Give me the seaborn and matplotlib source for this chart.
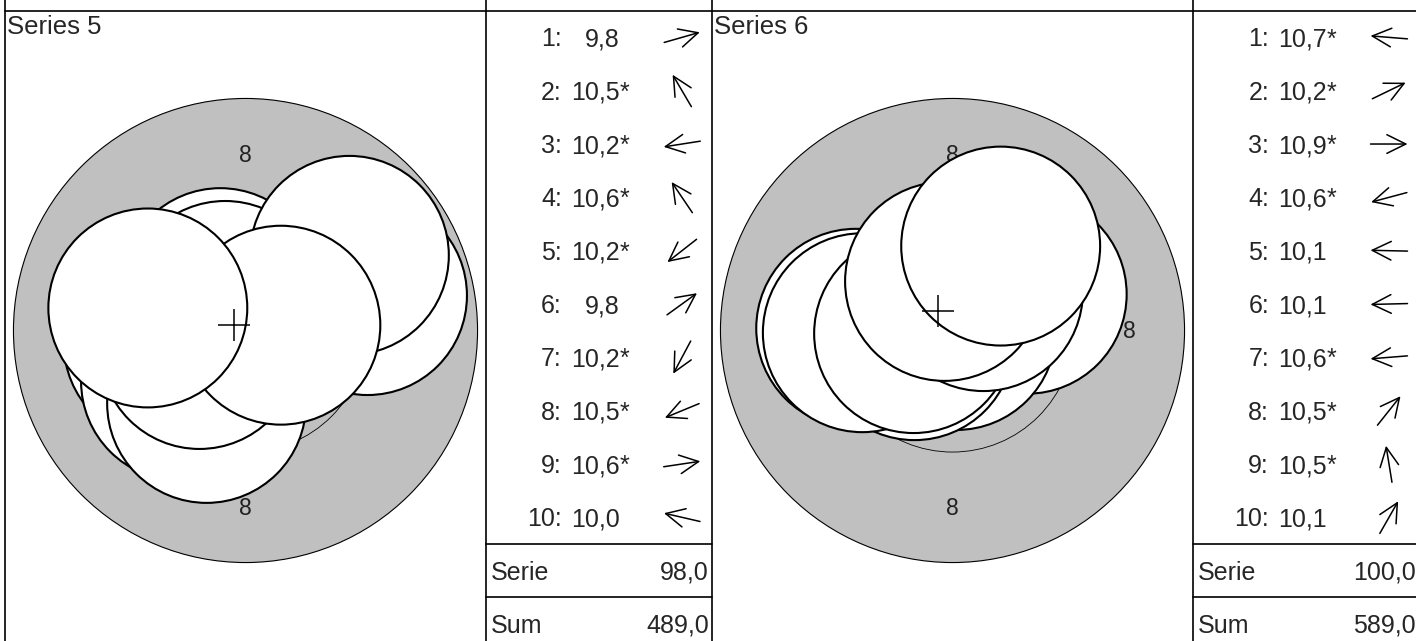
import matplotlib
matplotlib.use("Agg")
import matplotlib.pyplot as plt
from matplotlib.patches import Circle
import numpy as np
import pandas as pd
import seaborn as sns

# ---------------- data ----------------
series_names = ["Series 5", "Series 6"]

# shot centres in mm relative to target centre (y up)
s5_x = [2.76, -0.57, -1.86, -0.46, -1.47, 2.35, -0.88, -1.04, 0.80, -2.21]
s5_y = [0.79, 0.97, -0.29, 0.68, -1.15, 1.70, -1.65, -0.43, 0.12, 0.51]
s5_scores = [9.8, 10.5, 10.2, 10.6, 10.2, 9.8, 10.2, 10.5, 10.6, 10.0]
s5_inner = [False, True, True, True, True, False, True, True, True, False]

s6_x = [-0.62, 1.69, 0.09, -0.86, -2.19, -2.04, -0.88, 0.70, -0.18, 1.09]
s6_y = [0.05, 0.82, 0.00, -0.23, 0.05, -0.05, -0.07, 0.88, 1.11, 1.91]
s6_scores = [10.7, 10.2, 10.9, 10.6, 10.1, 10.1, 10.6, 10.5, 10.5, 10.1]
s6_inner = [True, True, True, True, False, False, True, True, True, False]

serie_totals = [98.0, 100.0]
running_sums = [489.0, 589.0]

ring_radii = [5.25, 2.75, 0.25]      # outer radius of rings 8, 9, 10 (mm)
ring_label_value = "8"
ring_label_radius = 4.0
pellet_radius = 2.25

# ---------------- style ----------------
sns.set_style("white")
plt.rcParams["font.family"] = ["Liberation Sans", "DejaVu Sans"]

W, H, DPI = 1416, 641, 100
fig = plt.figure(figsize=(W / DPI, H / DPI), dpi=DPI)

scale = 44.2          # px per mm
top_y = 10.7
panel_x0 = [5, 712]
target_w = 481
table_w = 226
center_y = 330.5
cell_h = 2 * (center_y - top_y)
row_h = 53.33
FS = 18

frames = [
    dict(x=s5_x, y=s5_y, scores=s5_scores, inner=s5_inner),
    dict(x=s6_x, y=s6_y, scores=s6_scores, inner=s6_inner),
]

for p, d in enumerate(frames):
    x0 = panel_x0[p]
    ax = fig.add_axes([x0 / W, (H - (top_y + cell_h)) / H, target_w / W, cell_h / H])
    hw = target_w / 2 / scale
    hh = cell_h / 2 / scale
    ax.add_patch(Circle((0, 0), ring_radii[0], fc="#c0c0c0", ec="black", lw=0.8, zorder=1))
    ax.add_patch(Circle((0, 0), ring_radii[1], fc="none", ec="black", lw=0.6, zorder=2))
    ax.add_patch(Circle((0, 0), ring_radii[2], fc="none", ec="black", lw=0.6, zorder=2))
    off = 0.18
    for (lx, ly) in [(0, ring_label_radius), (0, -ring_label_radius),
                     (ring_label_radius, 0), (-ring_label_radius, 0)]:
        ax.text(lx, ly - off, ring_label_value, ha="center", va="baseline",
                fontsize=16.5, color="#222222", zorder=3)
    df = pd.DataFrame({"x": d["x"], "y": d["y"]})
    for i in range(len(df)):
        ax.add_patch(Circle((df.x[i], df.y[i]), pellet_radius, fc="white",
                            ec="black", lw=1.5, zorder=10 + i))
    mean = pd.DataFrame({"x": [df.x.mean()], "y": [df.y.mean()]})
    sns.scatterplot(data=mean, x="x", y="y", marker="+", s=530, color="black",
                    linewidth=1.1, ax=ax, zorder=40, legend=False)
    ax.set_xlim(-hw, hw)
    ax.set_ylim(-hh, hh)
    ax.axis("off")

# ---------------- overlay: grid, text, arrows (pixel coords) ----------------
ov = fig.add_axes([0, 0, 1, 1])
ov.set_xlim(0, W)
ov.set_ylim(H, 0)
ov.axis("off")
ov.patch.set_alpha(0)

lw = 1.2
ov.plot([panel_x0[0], W], [top_y, top_y], color="black", lw=lw)
for p in range(2):
    x0 = panel_x0[p]
    tx = x0 + target_w
    ov.plot([x0, x0], [0, H], color="black", lw=lw)
    ov.plot([tx, tx], [0, H], color="black", lw=lw)
    for k in (10, 11):
        yy = top_y + k * row_h
        ov.plot([tx, tx + table_w], [yy, yy], color="black", lw=lw)

    ov.text(x0 + 2, 34, series_names[p], fontsize=FS + 0.5, ha="left", va="baseline")

    d = frames[p]
    for i in range(10):
        yc = top_y + row_h * (i + 0.5)
        ov.text(tx + 76, yc + 9, f"{i + 1}:", fontsize=FS, ha="right", va="baseline")
        ov.text(tx + 134, yc + 9, f"{d['scores'][i]:.1f}".replace(".", ","),
                fontsize=FS, ha="right", va="baseline")
        if d["inner"][i]:
            ov.text(tx + 134, yc + 9, "*", fontsize=FS, ha="left", va="baseline")
        ang = np.arctan2(d["y"][i], d["x"][i])
        L = 37
        cx = tx + 196
        hx, hy = cx + L / 2 * np.cos(ang), yc - L / 2 * np.sin(ang)
        tx_, ty_ = cx - L / 2 * np.cos(ang), yc + L / 2 * np.sin(ang)
        ov.annotate("", xy=(hx, hy), xytext=(tx_, ty_),
                    arrowprops=dict(arrowstyle="->,head_length=0.85,head_width=0.42",
                                    lw=1.1, color="black", shrinkA=0, shrinkB=0,
                                    mutation_scale=16))
    ys = top_y + row_h * 10.5
    ov.text(tx + 5, ys + 9, "Serie", fontsize=FS, ha="left", va="baseline")
    ov.text(tx + table_w - 3, ys + 9, f"{serie_totals[p]:.1f}".replace(".", ","),
            fontsize=FS, ha="right", va="baseline")
    ys = top_y + row_h * 11.5
    ov.text(tx + 5, ys + 9, "Sum", fontsize=FS, ha="left", va="baseline")
    ov.text(tx + table_w - 3, ys + 9, f"{running_sums[p]:.1f}".replace(".", ","),
            fontsize=FS, ha="right", va="baseline")

fig.savefig("out.png", dpi=DPI)
